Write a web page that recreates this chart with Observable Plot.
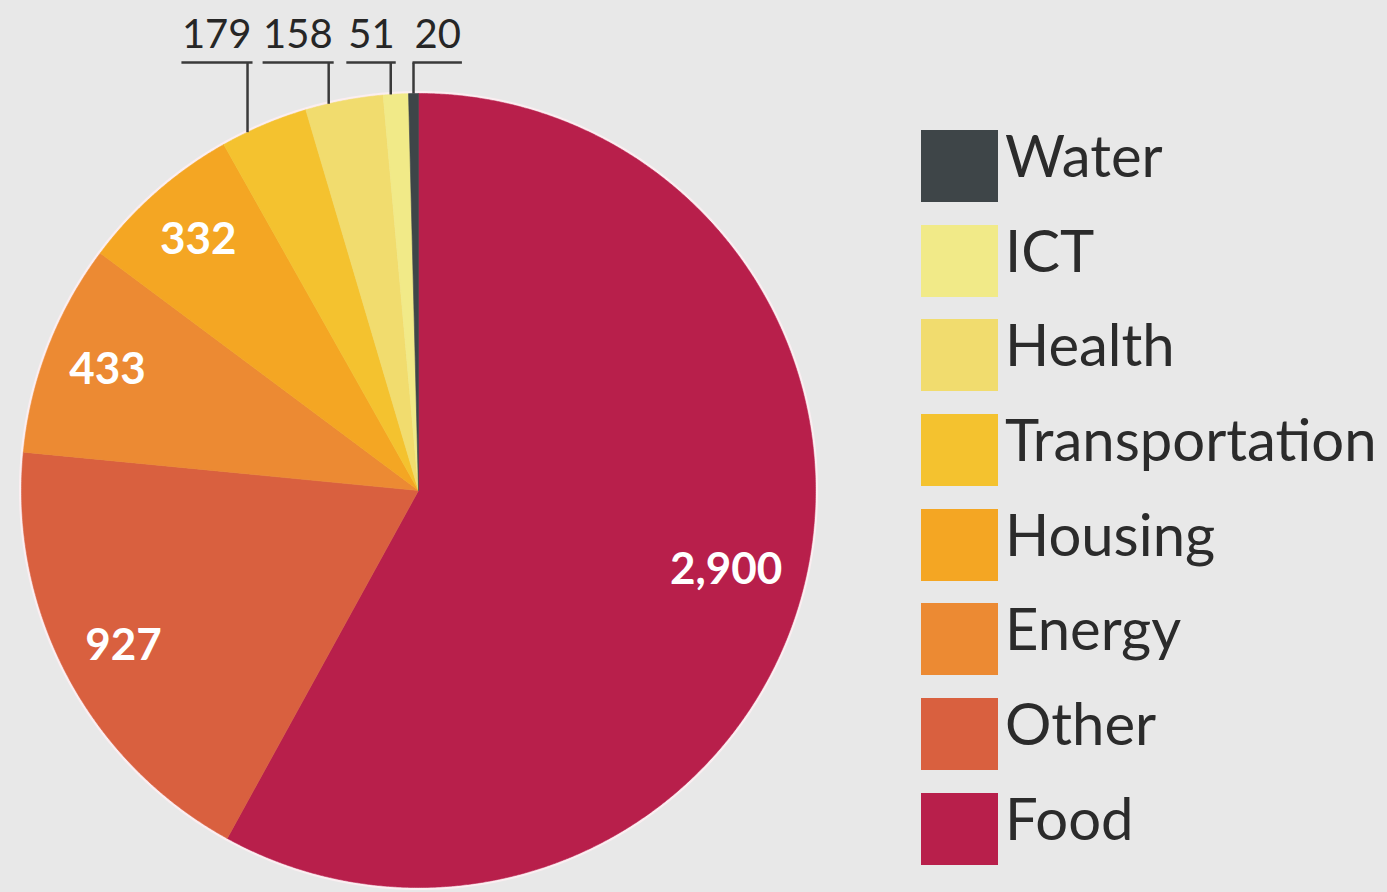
<!DOCTYPE html>
<html>
<head>
<meta charset="utf-8">
<script src="https://cdn.jsdelivr.net/npm/d3@7"></script>
<script src="https://cdn.jsdelivr.net/npm/@observablehq/plot@0.6"></script>
<style>
  html, body { margin: 0; padding: 0; background: #e8e8e8; }
  #wrap { position: relative; width: 1387px; height: 892px; overflow: hidden; background: #e8e8e8; }
  #chart { position: absolute; left: 0; top: 0; }
  #legend { position: absolute; left: 921px; top: 130px; font-family: Lato, "Open Sans", sans-serif; }
  .item { display: flex; align-items: flex-start; height: 72px; margin-bottom: 22.7px; }
  .sw { width: 77px; height: 72px; flex: none; }
  .lab { margin-left: 7px; font-size: 58px; line-height: 72px; color: #2b2b2b; transform: translateY(-11px); white-space: nowrap; letter-spacing: 0px; }
</style>
</head>
<body>
<div id="wrap">
  <div id="chart"></div>
  <div id="legend"></div>
</div>
<script>
// ---- data ----
const categories = ["Food", "Other", "Energy", "Housing", "Transportation", "Health", "ICT", "Water"];
const values = [2900, 927, 433, 332, 179, 158, 51, 20];
const colors = ["#b81f4b", "#d9603f", "#ec8a33", "#f4a623", "#f4c22f", "#f1dc6e", "#f1ea88", "#3e4548"];
const labelPlacement = ["inside", "inside", "inside", "inside", "outside", "outside", "outside", "outside"];
const legendOrder = ["Water", "ICT", "Health", "Transportation", "Housing", "Energy", "Other", "Food"];

// ---- geometry derived from the data ----
const R = 397;
const fmt = d3.format(",");
const arcs = d3.pie().sort(null).value(d => d)(values);

const sliceRows = [];
arcs.forEach((a, i) => {
  const cat = categories[i];
  const n = Math.max(2, Math.ceil((a.endAngle - a.startAngle) / (Math.PI / 720)));
  sliceRows.push({cat, x: 0, y: 0});
  for (let k = 0; k <= n; k++) {
    const t = a.startAngle + (a.endAngle - a.startAngle) * k / n;
    sliceRows.push({cat, x: R * Math.sin(t), y: R * Math.cos(t)});
  }
  sliceRows.push({cat, x: 0, y: 0});
});

const rimRows = d3.range(0, 721).map(k => {
  const t = k / 720 * 2 * Math.PI;
  return {x: (R + 1) * Math.sin(t), y: (R + 1) * Math.cos(t)};
});

const insideRows = [];
const outsideRows = [];
const outsideCount = labelPlacement.filter(p => p === "outside").length;
arcs.forEach((a, i) => {
  const m = (a.startAngle + a.endAngle) / 2;
  if (labelPlacement[i] === "inside") {
    const rr = i === 0 ? 0.8 * R : 0.84 * R;
    insideRows.push({text: fmt(values[i]), x: rr * Math.sin(m), y: rr * Math.cos(m)});
  } else {
    const last = outsideRows.length === outsideCount - 1;
    const f = last ? 0.5 : 0.3;   // where along the slice's rim the leader starts
    const t = a.startAngle + (a.endAngle - a.startAngle) * f;
    const lx = R * Math.sin(t);
    outsideRows.push({text: fmt(values[i]), lx, rimY: Math.sqrt(R * R - lx * lx), last});
  }
});

const labelFont = 40;
const charW = 0.58 * labelFont - 1.5;
const underY = 428;
const textY = 455;
outsideRows.forEach(d => {
  const w = d.text.length * charW;
  d.anchor = d.last ? "start" : "end";
  d.tx = d.last ? d.lx + 1 : d.lx + 4;
  d.u1 = d.last ? d.lx - 1 : d.lx - w - 1;
  d.u2 = d.last ? d.lx + w + 5 : d.lx + 5;
});

const labelStyle = {fontSize: labelFont, fill: "#262626", fontFamily: "Lato, 'Open Sans', sans-serif", letterSpacing: -1.5};

const plot = Plot.plot({
  width: 1387,
  height: 892,
  margin: 0,
  x: {domain: [-418, 969], axis: null},
  y: {domain: [-402, 490], axis: null},
  color: {domain: categories, range: colors},
  style: {background: "transparent", overflow: "visible"},
  marks: [
    Plot.line(rimRows, {x: "x", y: "y", stroke: "#fbeef1", strokeWidth: 3, curve: "linear"}),
    Plot.line(sliceRows, {x: "x", y: "y", z: "cat", fill: "cat", stroke: "cat", strokeWidth: 0.6, curve: "linear"}),
    Plot.text(insideRows, {x: "x", y: "y", text: "text", fill: "white", fontSize: 44, fontWeight: "bold",
      fontFamily: "Lato, 'Open Sans', sans-serif", letterSpacing: -1}),
    Plot.link(outsideRows, {x1: "lx", x2: "lx", y1: underY, y2: "rimY", stroke: "#3a3a3a", strokeWidth: 2.5}),
    Plot.link(outsideRows, {x1: "u1", x2: "u2", y1: underY, y2: underY, stroke: "#3a3a3a", strokeWidth: 2.5}),
    Plot.text(outsideRows.filter(d => d.anchor === "end"), {x: "tx", y: textY, text: "text", textAnchor: "end", ...labelStyle}),
    Plot.text(outsideRows.filter(d => d.anchor === "start"), {x: "tx", y: textY, text: "text", textAnchor: "start", ...labelStyle})
  ]
});
document.getElementById("chart").appendChild(plot);

// ---- legend ----
const colorOf = new Map(categories.map((c, i) => [c, colors[i]]));
const legend = document.getElementById("legend");
legendOrder.forEach(c => {
  const item = document.createElement("div");
  item.className = "item";
  const sw = document.createElement("div");
  sw.className = "sw";
  sw.style.background = colorOf.get(c);
  const lab = document.createElement("div");
  lab.className = "lab";
  lab.textContent = c;
  item.appendChild(sw);
  item.appendChild(lab);
  legend.appendChild(item);
});
</script>
</body>
</html>
